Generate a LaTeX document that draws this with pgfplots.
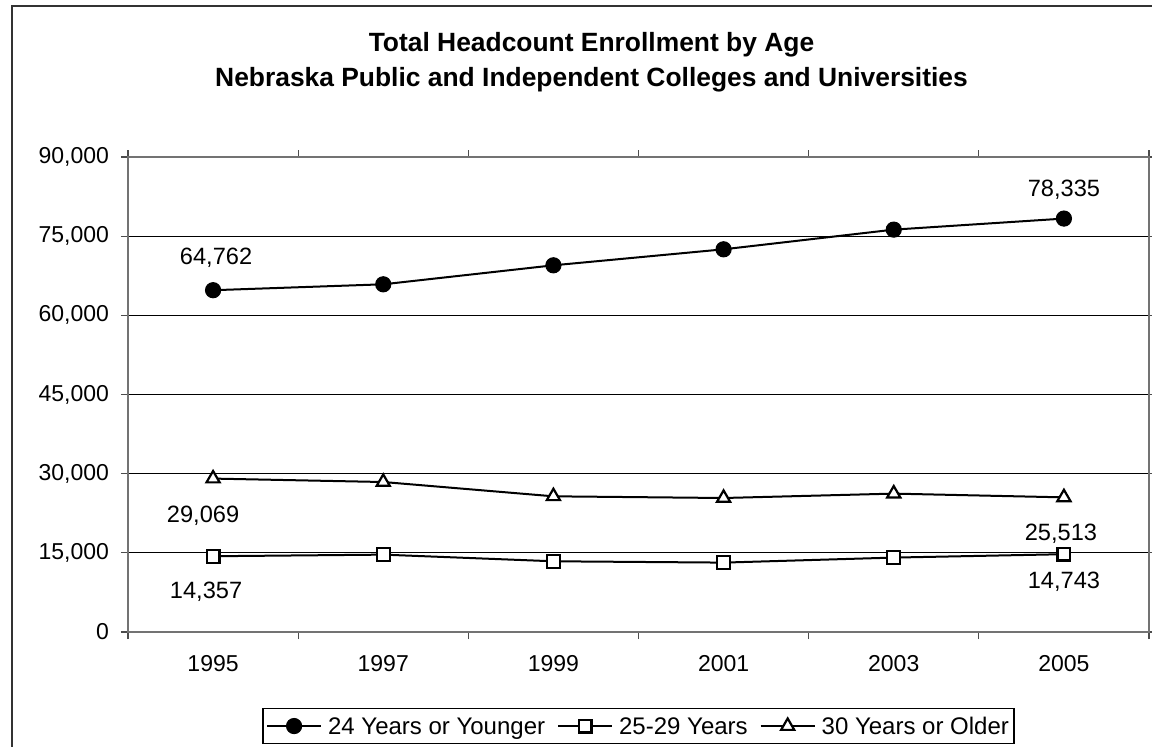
\documentclass[border=0pt]{standalone}
\usepackage{fontspec}
\setmainfont{Liberation Sans}
\usepackage{pgfplots}
\pgfplotsset{compat=1.18}
\begin{document}
\begin{tikzpicture}
\path[use as bounding box] (0pt,0pt) rectangle (576pt,373pt);
% outer chart frame (left and top edges visible)
\draw[line width=0.75pt, black!80] (6pt,-5pt) -- (6pt,370pt) -- (590pt,370pt);
% title
\node[anchor=base, font=\fontsize{13.2}{15}\selectfont\bfseries] at (295.75pt,347pt) {Total Headcount Enrollment by Age};
\node[anchor=base, font=\fontsize{13.2}{15}\selectfont\bfseries] at (295.75pt,329.5pt) {Nebraska Public and Independent Colleges and Universities};
\begin{axis}[
  at={(64pt,57pt)}, anchor=south west,
  scale only axis, width=510.5pt, height=237.5pt,
  xmin=-0.5, xmax=5.5, ymin=0, ymax=90000,
  xtick={0,1,2,3,4,5},
  xticklabels={1995,1997,1999,2001,2003,2005},
  major x tick style={draw=none},
  minor xtick={-0.5,0.5,1.5,2.5,3.5,4.5,5.5},
  minor x tick style={black!70, line width=0.6pt},
  ytick={0,15000,30000,45000,60000,75000,90000},
  yticklabels={0,{15,000},{30,000},{45,000},{60,000},{75,000},{90,000}},
  scaled y ticks=false,
  tick align=outside,
  major tick length=3.5pt, minor tick length=3.5pt,
  ytick style={black!70, line width=0.6pt},
  ymajorgrids, grid style={black, line width=0.5pt},
  axis line style={black!55, line width=0.8pt},
  tick label style={font=\fontsize{11.5}{13}\selectfont},
  xticklabel style={yshift=-4.5pt},
  yticklabel style={xshift=-2.5pt},
  /pgf/number format/assume math mode=true,
  clip=false,
  legend columns=3,
  legend style={at={(0.5,-0.198)}, anchor=center, draw=black, line width=0.6pt,
    font=\fontsize{12}{14}\selectfont, inner xsep=1.5pt, inner ysep=1pt,
    nodes={inner xsep=1pt},
    /tikz/every odd column/.append style={column sep=2pt},
    /tikz/every even column/.append style={column sep=5pt}},
  legend image code/.code={\draw[black, line width=1pt] (0pt,0pt) -- (27pt,0pt); \draw[#1, only marks] plot coordinates {(13.5pt,0pt)};},
]
\addplot[black, line width=1pt, mark=*, mark size=3.8pt, mark options={fill=black, line width=0.5pt}]
  coordinates {(0,64762) (1,65880) (2,69480) (3,72510) (4,76240) (5,78335)};
\addlegendentry{\strut 24 Years or Younger}
\addplot[black, line width=1pt, mark=square*, mark size=3.2pt, mark options={fill=white, line width=1.1pt}]
  coordinates {(0,14357) (1,14660) (2,13400) (3,13150) (4,14100) (5,14743)};
\addlegendentry{\strut 25-29 Years}
\addplot[black, line width=1pt, mark=triangle*, mark size=3.8pt, mark options={fill=white, line width=1.1pt}]
  coordinates {(0,29069) (1,28420) (2,25710) (3,25390) (4,26220) (5,25513)};
\addlegendentry{\strut 30 Years or Older}
% data labels
\node[anchor=south, font=\fontsize{11.8}{14}\selectfont, inner sep=0pt] at ([xshift=1.5pt,yshift=11pt]axis cs:0,64762) {64,762};
\node[anchor=south, font=\fontsize{11.8}{14}\selectfont, inner sep=0pt] at ([yshift=9.5pt]axis cs:5,78335) {78,335};
\node[anchor=north, font=\fontsize{11.8}{14}\selectfont, inner sep=0pt] at ([xshift=-5pt,yshift=-13.5pt]axis cs:0,29069) {29,069};
\node[anchor=north, font=\fontsize{11.8}{14}\selectfont, inner sep=0pt] at ([xshift=-1.5pt,yshift=-13pt]axis cs:5,25513) {25,513};
\node[anchor=north, font=\fontsize{11.8}{14}\selectfont, inner sep=0pt] at ([xshift=-3.5pt,yshift=-12.5pt]axis cs:0,14357) {14,357};
\node[anchor=north, font=\fontsize{11.8}{14}\selectfont, inner sep=0pt] at ([yshift=-8.5pt]axis cs:5,14743) {14,743};
\end{axis}
\end{tikzpicture}
\end{document}
